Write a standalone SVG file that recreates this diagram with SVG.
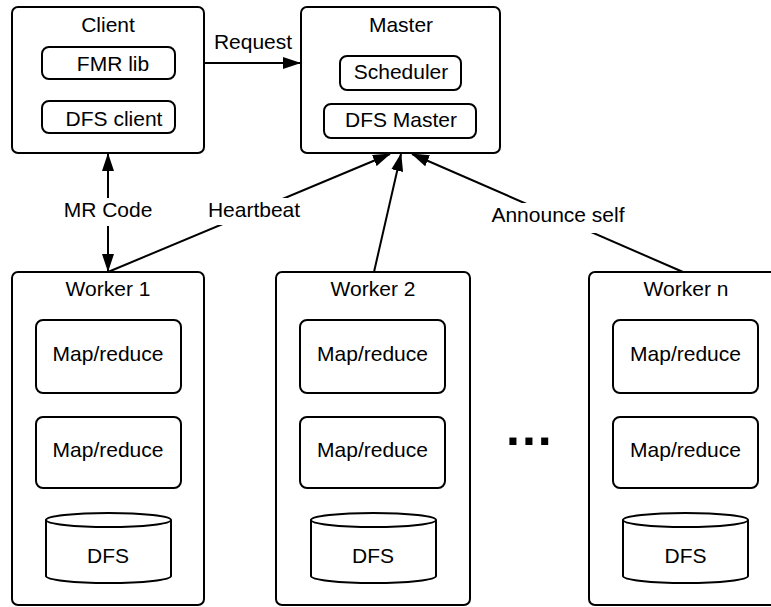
<svg xmlns="http://www.w3.org/2000/svg" width="771" height="607" viewBox="0 0 771 607">
<defs>
<style>
.box{fill:#fff;stroke:#000;stroke-width:2}
.t{font-family:"Liberation Sans",Arial,sans-serif;font-size:21px;fill:#000;text-anchor:middle}
.ln{stroke:#000;stroke-width:2;fill:none}
.lbl{fill:#fff;stroke:none}
</style>
<marker id="ah" viewBox="0 0 18 12" refX="17" refY="6" markerWidth="18" markerHeight="12" markerUnits="userSpaceOnUse" orient="auto-start-reverse">
<path d="M0,0 L18,6 L0,12 z" fill="#000"/>
</marker>
</defs>
<rect width="771" height="607" fill="#fff"/>

<g id="connectors">
<line class="ln" x1="175" y1="63" x2="300" y2="63" marker-end="url(#ah)"/>
<line class="ln" x1="108" y1="154" x2="108" y2="271" marker-start="url(#ah)" marker-end="url(#ah)"/>
<line class="ln" x1="108" y1="272" x2="390" y2="154" marker-end="url(#ah)"/>
<line class="ln" x1="374" y1="272" x2="401" y2="154" marker-end="url(#ah)"/>
<line class="ln" x1="683" y1="272" x2="412" y2="154" marker-end="url(#ah)"/>
<rect class="lbl" x="60" y="198" width="96" height="28"/>
<text class="t" x="108" y="217">MR Code</text>
<rect class="lbl" x="205" y="198" width="99" height="27"/>
<text class="t" x="254" y="217">Heartbeat</text>
<rect class="lbl" x="487" y="203" width="142" height="30"/>
<text class="t" x="558" y="222">Announce self</text>
<text class="t" x="253" y="49">Request</text>
</g>

<g id="client">
<rect class="box" x="12" y="7" width="192" height="146" rx="6"/>
<text class="t" x="108" y="32">Client</text>
<g id="fmr-lib">
<rect class="box" x="42" y="47" width="133" height="32" rx="7"/>
<text class="t" x="113" y="71">FMR lib</text>
</g>
<g id="dfs-client">
<rect class="box" x="42" y="101" width="133" height="32" rx="7"/>
<text class="t" x="114" y="126">DFS client</text>
</g>
</g>

<g id="master">
<rect class="box" x="301" y="7" width="199" height="146" rx="6"/>
<text class="t" x="401" y="32">Master</text>
<g id="scheduler">
<rect class="box" x="340" y="56" width="121" height="34" rx="7"/>
<text class="t" x="401" y="79">Scheduler</text>
</g>
<g id="dfs-master">
<rect class="box" x="324" y="104" width="152" height="34" rx="7"/>
<text class="t" x="401" y="127">DFS Master</text>
</g>
</g>

<g id="worker1">
<rect class="box" x="12" y="272" width="192" height="333" rx="6"/>
<text class="t" x="108" y="296">Worker 1</text>
<rect class="box" x="36" y="320" width="145" height="73" rx="7"/>
<text class="t" x="108" y="361">Map/reduce</text>
<rect class="box" x="36" y="417" width="145" height="71" rx="7"/>
<text class="t" x="108" y="457">Map/reduce</text>
<path class="box" d="M46,520 A62.5,7 0 0 1 171,520 L171,576 A62.5,7 0 0 1 46,576 Z"/>
<path class="ln" d="M46,520 A62.5,7 0 0 0 171,520"/>
<text class="t" x="108" y="563">DFS</text>
</g>

<g id="worker2">
<rect class="box" x="276" y="272" width="194" height="333" rx="6"/>
<text class="t" x="373" y="296">Worker 2</text>
<rect class="box" x="300" y="320" width="145" height="73" rx="7"/>
<text class="t" x="372.5" y="361">Map/reduce</text>
<rect class="box" x="300" y="417" width="145" height="71" rx="7"/>
<text class="t" x="372.5" y="457">Map/reduce</text>
<path class="box" d="M311,520 A62.5,7 0 0 1 436,520 L436,576 A62.5,7 0 0 1 311,576 Z"/>
<path class="ln" d="M311,520 A62.5,7 0 0 0 436,520"/>
<text class="t" x="373" y="563">DFS</text>
</g>

<g id="ellipsis">
<text x="506" y="445" style="font-family:'Liberation Sans',Arial,sans-serif;font-size:50px;font-weight:bold;letter-spacing:2px" fill="#000">...</text>
</g>

<g id="workern">
<rect class="box" x="589" y="272" width="194" height="333" rx="6"/>
<text class="t" x="686" y="296">Worker n</text>
<rect class="box" x="613" y="320" width="145" height="73" rx="7"/>
<text class="t" x="685.5" y="361">Map/reduce</text>
<rect class="box" x="613" y="417" width="145" height="71" rx="7"/>
<text class="t" x="685.5" y="457">Map/reduce</text>
<path class="box" d="M623,520 A62.5,7 0 0 1 748,520 L748,576 A62.5,7 0 0 1 623,576 Z"/>
<path class="ln" d="M623,520 A62.5,7 0 0 0 748,520"/>
<text class="t" x="685.5" y="563">DFS</text>
</g>
</svg>
